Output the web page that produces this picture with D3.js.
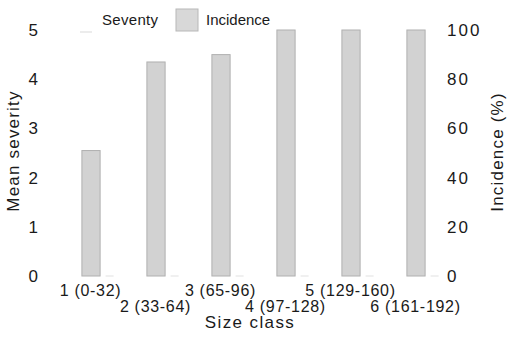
<!DOCTYPE html>
<html><head><meta charset="utf-8">
<script src="https://cdn.jsdelivr.net/npm/d3@7"></script>
<style>body{margin:0;background:#fff}text{font-family:"Liberation Sans",Arial,sans-serif;fill:#1a1a1a}</style>
</head><body><svg id="c" width="508" height="341"></svg>
<script>
const categories = ["1 (0-32)","2 (33-64)","3 (65-96)","4 (97-128)","5 (129-160)","6 (161-192)"];
const incidence = [51, 87, 90, 100, 100, 100];
const severity = [0, 0, 0, 0, 0, 0];
const leftTicks = [0,1,2,3,4,5];
const rightTicks = [0,20,40,60,80,100];

const svg = d3.select("#c");
const x = d3.scaleBand().domain(categories).range([58, 448]).paddingInner(0.72).paddingOuter(0.36);
const yL = d3.scaleLinear().domain([0,5]).range([276,30]);
const yR = d3.scaleLinear().domain([0,100]).range([276,30]);

// bars
svg.selectAll("rect.bar").data(incidence).join("rect").attr("class","bar")
  .attr("x",(d,i)=>x(categories[i])+0.5).attr("width",x.bandwidth())
  .attr("y",d=>yR(d)).attr("height",d=>yR(0)-yR(d))
  .attr("fill","#d2d2d2").attr("stroke","#b0b0b0").attr("stroke-width",1);

// severity (faint)
svg.selectAll("line.sev").data(severity).join("line").attr("class","sev")
  .attr("x1",(d,i)=>x(categories[i])+x.bandwidth()+6).attr("x2",(d,i)=>x(categories[i])+x.bandwidth()+14)
  .attr("y1",d=>yL(d)).attr("y2",d=>yL(d)).attr("stroke","#ebebeb").attr("stroke-width",1.5);

// left axis
svg.selectAll("text.lt").data(leftTicks).join("text").attr("class","lt")
  .attr("x",38).attr("y",d=>yL(d)+6).attr("text-anchor","end").attr("font-size",17).text(d=>d);
svg.selectAll("text.rt").data(rightTicks).join("text").attr("class","rt")
  .attr("x",447).attr("y",d=>yR(d)+6).attr("text-anchor","start").attr("font-size",17).attr("letter-spacing",2).text(d=>d);

svg.append("text").attr("transform","translate(19,151) rotate(-90)").attr("text-anchor","middle").attr("font-size",17).attr("letter-spacing",1.2).text("Mean severity");
svg.append("text").attr("transform","translate(503,152) rotate(-90)").attr("text-anchor","middle").attr("font-size",17).attr("letter-spacing",1.2).text("Incidence (%)");

// x labels
svg.selectAll("text.xl").data(categories).join("text").attr("class","xl")
  .attr("x",d=>x(d)+x.bandwidth()/2).attr("y",(d,i)=>i%2===0?296:312)
  .attr("text-anchor","middle").attr("font-size",16).attr("letter-spacing",0.7).text(d=>d);
svg.append("text").attr("x",250).attr("y",328).attr("text-anchor","middle").attr("font-size",17).attr("letter-spacing",1.4).text("Size class");

// legend
svg.append("line").attr("x1",80).attr("x2",92).attr("y1",32).attr("y2",32).attr("stroke","#e6e6e6").attr("stroke-width",1.5);
svg.append("text").attr("x",102).attr("y",25).attr("font-size",15).attr("letter-spacing",0.3).text("Seventy");
svg.append("rect").attr("x",176).attr("y",9).attr("width",22).attr("height",22).attr("fill","#d8d8d8").attr("stroke","#b8b8b8");
svg.append("text").attr("x",206).attr("y",25).attr("font-size",15).text("Incidence");
</script></body></html>
